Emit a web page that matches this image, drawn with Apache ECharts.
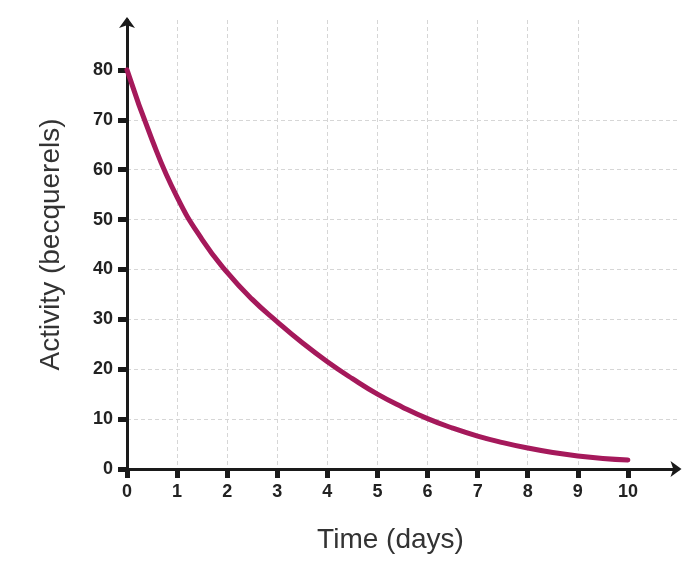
<!DOCTYPE html>
<html lang="en">

<head>
    <meta charset="UTF-8">
    <title>Activity vs Time</title>
    <style>
        html, body { margin: 0; padding: 0; background: #fff; }
        #container { width: 698px; height: 578px; }
    </style>
</head>

<body>
    <div id="container"></div>
</body>

<script src="https://cdn.jsdelivr.net/npm/echarts@6.0.0/dist/echarts.min.js"></script>

<script>
  // values, every half day
  var days = [0, 0.5, 1, 1.5, 2, 2.5, 3, 3.5, 4, 4.5, 5, 5.5, 6, 6.5, 7, 7.5, 8, 8.5, 9, 9.5, 10];
  var activity = [80, 66, 54.5, 46, 39.4, 34, 29.5, 25.3, 21.5, 18.1, 15, 12.4, 10.1, 8.2, 6.6, 5.3, 4.2, 3.3, 2.6, 2.1, 1.8];
  var xTicks = [0, 1, 2, 3, 4, 5, 6, 7, 8, 9, 10];
  var yTicks = [0, 10, 20, 30, 40, 50, 60, 70, 80];

  var points = [];
  for (var i = 0; i < days.length; i++) {
    points.push([days[i], activity[i]]);
  }

  var axisColor = '#1a1a1a';
  var gridLine = {
    show: true,
    showMinLine: false,
    showMaxLine: false,
    lineStyle: { color: '#d6d6d6', type: [4, 3], width: 1 }
  };

  var myChart = echarts.init(document.getElementById('container'));
  var option = {
    backgroundColor: '#fff',
    animation: false,
    grid: {
      left: 127,
      right: 20,
      top: 20,
      bottom: 109
    },
    xAxis: {
      type: 'value',
      min: 0,
      max: 11,
      interval: 1,
      name: 'Time (days)',
      nameLocation: 'middle',
      nameGap: 57,
      nameTextStyle: {
        fontSize: 28,
        color: '#333',
        fontFamily: 'Liberation Sans',
        padding: [0, 24, 0, 0]
      },
      axisLine: {
        show: true,
        lineStyle: { color: axisColor, width: 3 },
        symbol: ['none', 'arrow'],
        symbolSize: [12, 11],
        symbolOffset: [0, 3.5]
      },
      axisTick: {
        show: true,
        customValues: xTicks,
        length: 9,
        lineStyle: { color: axisColor, width: 5 }
      },
      axisLabel: {
        customValues: xTicks,
        margin: 14,
        fontSize: 18,
        fontWeight: 'bold',
        color: '#222',
        fontFamily: 'Liberation Sans'
      },
      splitLine: gridLine
    },
    yAxis: {
      type: 'value',
      min: 0,
      max: 90,
      interval: 10,
      name: 'Activity (becquerels)',
      nameLocation: 'middle',
      nameGap: 62,
      nameTextStyle: {
        fontSize: 28,
        color: '#333',
        fontFamily: 'Liberation Sans'
      },
      axisLine: {
        show: true,
        lineStyle: { color: axisColor, width: 3 },
        symbol: ['none', 'arrow'],
        symbolSize: [12, 11],
        symbolOffset: [0, 3]
      },
      axisTick: {
        show: true,
        customValues: yTicks,
        length: 9,
        lineStyle: { color: axisColor, width: 5 }
      },
      axisLabel: {
        customValues: yTicks,
        margin: 14,
        fontSize: 18,
        fontWeight: 'bold',
        color: '#222',
        fontFamily: 'Liberation Sans'
      },
      splitLine: gridLine
    },
    series: [{
      type: 'line',
      data: points,
      smooth: true,
      showSymbol: false,
      lineStyle: { color: '#a5195b', width: 5, cap: 'round' },
      z: 3
    }]
  };
  myChart.setOption(option);
</script>

</html>
